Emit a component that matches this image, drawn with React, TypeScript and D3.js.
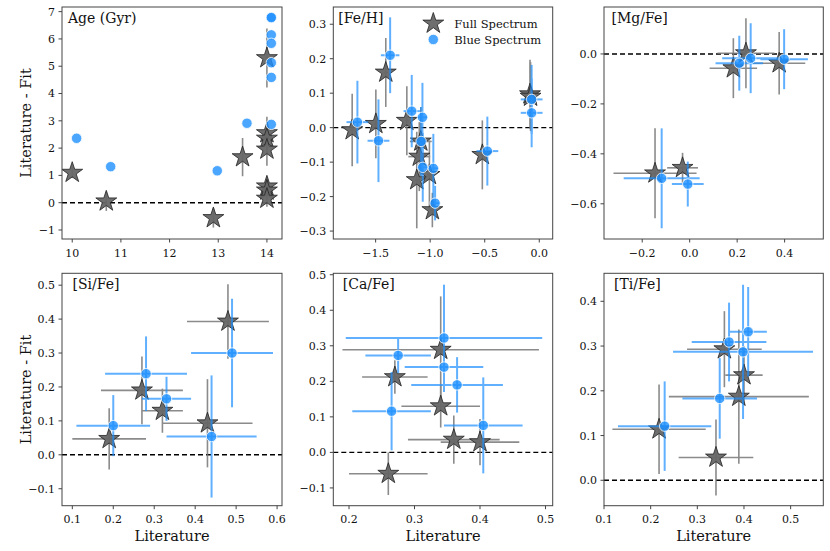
import React from 'react';
import * as d3 from 'd3';

// ---------------- DATA ----------------
// Age (Gyr)
const ageFullLit = [10.0, 10.7, 12.9, 13.5, 14.0, 14.0, 14.0, 14.0, 14.0, 14.0, 14.0];
const ageFullDiff = [1.1, 0.05, -0.56, 1.67, 5.3, 2.55, 2.35, 1.95, 0.6, 0.45, 0.15];
const ageFullYerr = [0.2, 0.35, 0.35, 0.7, 1.08, 0.6, 0.5, 0.6, 0.35, 0.3, 0.3];
const ageBlueLit = [10.09, 10.79, 12.98, 13.59, 14.09, 14.09, 14.09, 14.09, 14.09, 14.09, 14.09];
const ageBlueDiff = [2.36, 1.32, 1.17, 2.91, 6.8, 6.78, 6.15, 5.84, 5.13, 4.59, 2.87];

// [Fe/H]
const fehFullLit = [-1.715, -1.498, -1.407, -1.214, -1.086, -1.1, -1.123, -1.007, -0.98, -0.522, -0.085, -0.08];
const fehFullDiff = [-0.007, 0.011, 0.16, 0.02, -0.04, -0.084, -0.152, -0.137, -0.239, -0.079, 0.097, 0.09];
const fehFullYerr = [0.105, 0.1, 0.1, 0.1, 0.1, 0.1, 0.14, 0.1, 0.05, 0.1, 0.1, 0.1];
const fehFullXerr = [0.02, 0.02, 0.02, 0.02, 0.1, 0.1, 0.02, 0.02, 0.02, 0.02, 0.02, 0.02];
const fehBlueLit = [-1.667, -1.474, -1.367, -1.169, -1.071, -1.083, -1.068, -0.971, -0.955, -0.476, -0.07, -0.07];
const fehBlueDiff = [0.016, -0.038, 0.21, 0.048, 0.03, -0.04, -0.115, -0.118, -0.219, -0.068, 0.082, 0.043];
const fehBlueYerr = [0.12, 0.12, 0.11, 0.105, 0.1, 0.1, 0.1, 0.1, 0.05, 0.1, 0.1, 0.1];
const fehBlueXerr = [0.1, 0.1, 0.085, 0.075, 0.05, 0.05, 0.05, 0.05, 0.04, 0.1, 0.1, 0.1];

// [Mg/Fe]
const mgFullLit = [-0.146, -0.03, 0.184, 0.237, 0.377];
const mgFullDiff = [-0.478, -0.456, -0.057, 0.003, -0.037];
const mgFullYerr = [0.18, 0.06, 0.12, 0.14, 0.125];
const mgFullXerr = [0.175, 0.065, 0.1, 0.12, 0.11];
const mgBlueLit = [-0.118, -0.008, 0.209, 0.257, 0.398];
const mgBlueDiff = [-0.498, -0.521, -0.037, -0.017, -0.021];
const mgBlueYerr = [0.2, 0.09, 0.11, 0.14, 0.12];
const mgBlueXerr = [0.16, 0.067, 0.1, 0.12, 0.1];

// [Si/Fe]
const siFullLit = [0.19, 0.27, 0.32, 0.43, 0.48];
const siFullDiff = [0.047, 0.19, 0.13, 0.093, 0.393];
const siFullYerr = [0.09, 0.1, 0.065, 0.13, 0.11];
const siFullXerr = [0.09, 0.1, 0.05, 0.11, 0.1];
const siBlueLit = [0.2, 0.28, 0.33, 0.44, 0.49];
const siBlueDiff = [0.086, 0.239, 0.165, 0.054, 0.3];
const siBlueYerr = [0.09, 0.11, 0.065, 0.18, 0.16];
const siBlueXerr = [0.09, 0.1, 0.06, 0.11, 0.1];

// [Ca/Fe]
const caFullLit = [0.26, 0.27, 0.34, 0.34, 0.36, 0.4];
const caFullDiff = [-0.06, 0.212, 0.289, 0.13, 0.036, 0.029];
const caFullYerr = [0.06, 0.047, 0.15, 0.06, 0.068, 0.065];
const caFullXerr = [0.06, 0.05, 0.15, 0.06, 0.07, 0.06];
const caBlueLit = [0.265, 0.275, 0.345, 0.345, 0.365, 0.405];
const caBlueDiff = [0.116, 0.273, 0.322, 0.24, 0.19, 0.076];
const caBlueYerr = [0.11, 0.05, 0.15, 0.07, 0.078, 0.135];
const caBlueXerr = [0.06, 0.05, 0.15, 0.06, 0.07, 0.06];

// [Ti/Fe]
const tiFullLit = [0.218, 0.34, 0.358, 0.389, 0.4];
const tiFullDiff = [0.114, 0.051, 0.293, 0.187, 0.235];
const tiFullYerr = [0.1, 0.085, 0.085, 0.15, 0.065];
const tiFullXerr = [0.1, 0.08, 0.08, 0.15, 0.04];
const tiBlueLit = [0.23, 0.348, 0.368, 0.398, 0.409];
const tiBlueDiff = [0.121, 0.183, 0.309, 0.287, 0.332];
const tiBlueYerr = [0.1, 0.09, 0.088, 0.15, 0.1];
const tiBlueXerr = [0.1, 0.08, 0.08, 0.15, 0.04];

// tick values
const ageXTicks = [10, 11, 12, 13, 14];
const ageYTicks = [-1, 0, 1, 2, 3, 4, 5, 6, 7];
const fehXTicks = [-1.5, -1.0, -0.5, 0.0];
const fehYTicks = [-0.3, -0.2, -0.1, 0.0, 0.1, 0.2, 0.3];
const mgXTicks = [-0.2, 0.0, 0.2, 0.4];
const mgYTicks = [-0.6, -0.4, -0.2, 0.0];
const siXTicks = [0.1, 0.2, 0.3, 0.4, 0.5, 0.6];
const siYTicks = [-0.1, 0.0, 0.1, 0.2, 0.3, 0.4, 0.5];
const caXTicks = [0.2, 0.3, 0.4, 0.5];
const caYTicks = [-0.1, 0.0, 0.1, 0.2, 0.3, 0.4, 0.5];
const tiXTicks = [0.1, 0.2, 0.3, 0.4, 0.5];
const tiYTicks = [0.0, 0.1, 0.2, 0.3, 0.4];

const titles = ['Age (Gyr)', '[Fe/H]', '[Mg/Fe]', '[Si/Fe]', '[Ca/Fe]', '[Ti/Fe]'];
const legendLabels = ['Full Spectrum', 'Blue Spectrum'];
const yLabel = 'Literature - Fit';
const xLabel = 'Literature';

// ---------------- LAYOUT / STYLE ----------------
const FONT = 'DejaVu Serif';
const colX = [[62, 282], [333.3, 552.7], [604, 823.3]];
const rowY = [[7, 239], [273.3, 505.7]];
const STAR_R = 11;
const starPath = d3.symbol(d3.symbolStar, (STAR_R * STAR_R) / 0.8908130915292852)() as string;
const BLUE = '#1e90ff';

type Series = { x: number[]; y: number[]; xe?: number[]; ye?: number[] };
type Panel = {
  title: string; col: number; row: number; titleDx: number;
  xd: [number, number]; yd: [number, number];
  xt: number[]; yt: number[]; fmt: (v: number) => string;
  full: Series; blue: Series; legend?: boolean;
};

const f1 = (v: number) => d3.format('.1f')(v).replace('-', '\u2212');
const f0 = (v: number) => d3.format('d')(v).replace('-', '\u2212');

const panels: Panel[] = [
  { title: titles[0], col: 0, row: 0, titleDx: 6, xd: [9.79, 14.31], yd: [-1.33, 7.17], xt: ageXTicks, yt: ageYTicks, fmt: f0,
    full: { x: ageFullLit, y: ageFullDiff, ye: ageFullYerr }, blue: { x: ageBlueLit, y: ageBlueDiff } },
  { title: titles[1], col: 1, row: 0, titleDx: 5, xd: [-1.888, 0.123], yd: [-0.323, 0.35], xt: fehXTicks, yt: fehYTicks, fmt: f1,
    full: { x: fehFullLit, y: fehFullDiff, xe: fehFullXerr, ye: fehFullYerr }, blue: { x: fehBlueLit, y: fehBlueDiff, xe: fehBlueXerr, ye: fehBlueYerr }, legend: true },
  { title: titles[2], col: 2, row: 0, titleDx: 7.5, xd: [-0.361, 0.563], yd: [-0.741, 0.188], xt: mgXTicks, yt: mgYTicks, fmt: f1,
    full: { x: mgFullLit, y: mgFullDiff, xe: mgFullXerr, ye: mgFullYerr }, blue: { x: mgBlueLit, y: mgBlueDiff, xe: mgBlueXerr, ye: mgBlueYerr } },
  { title: titles[3], col: 0, row: 1, titleDx: 10.5, xd: [0.0748, 0.612], yd: [-0.15, 0.535], xt: siXTicks, yt: siYTicks, fmt: f1,
    full: { x: siFullLit, y: siFullDiff, xe: siFullXerr, ye: siFullYerr }, blue: { x: siBlueLit, y: siBlueDiff, xe: siBlueXerr, ye: siBlueYerr } },
  { title: titles[4], col: 1, row: 1, titleDx: 9.5, xd: [0.176, 0.511], yd: [-0.15, 0.504], xt: caXTicks, yt: caYTicks, fmt: f1,
    full: { x: caFullLit, y: caFullDiff, xe: caFullXerr, ye: caFullYerr }, blue: { x: caBlueLit, y: caBlueDiff, xe: caBlueXerr, ye: caBlueYerr } },
  { title: titles[5], col: 2, row: 1, titleDx: 10, xd: [0.1, 0.57], yd: [-0.0568, 0.4626], xt: tiXTicks, yt: tiYTicks, fmt: f1,
    full: { x: tiFullLit, y: tiFullDiff, xe: tiFullXerr, ye: tiFullYerr }, blue: { x: tiBlueLit, y: tiBlueDiff, xe: tiBlueXerr, ye: tiBlueYerr } },
];

function ErrBars({ s, sx, sy, color, width, opacity }: { s: Series; sx: any; sy: any; color: string; width: number; opacity: number }) {
  return (
    <g stroke={color} strokeWidth={width} opacity={opacity}>
      {s.x.map((xv, i) => (
        <g key={i}>
          {s.ye && <line x1={sx(xv)} x2={sx(xv)} y1={sy(s.y[i] - s.ye[i])} y2={sy(s.y[i] + s.ye[i])} />}
          {s.xe && <line x1={sx(xv - s.xe[i])} x2={sx(xv + s.xe[i])} y1={sy(s.y[i])} y2={sy(s.y[i])} />}
        </g>
      ))}
    </g>
  );
}

function PanelView({ p }: { p: Panel }) {
  const [x0, x1] = colX[p.col];
  const [y0, y1] = rowY[p.row];
  const sx = d3.scaleLinear().domain(p.xd).range([x0, x1]);
  const sy = d3.scaleLinear().domain(p.yd).range([y1, y0]);
  const clipId = `clip-${p.col}-${p.row}`;
  const axisColor = '#444';
  return (
    <g>
      <defs>
        <clipPath id={clipId}><rect x={x0} y={y0} width={x1 - x0} height={y1 - y0} /></clipPath>
      </defs>
      <g clipPath={`url(#${clipId})`}>
        <line x1={x0} x2={x1} y1={sy(0)} y2={sy(0)} stroke="#000" strokeWidth={1.4} strokeDasharray="5,3" />
        <ErrBars s={p.full} sx={sx} sy={sy} color="#777" width={1.6} opacity={0.85} />
        {p.full.x.map((xv, i) => (
          <path key={i} d={starPath} transform={`translate(${sx(xv)},${sy(p.full.y[i])})`} fill="#666" fillOpacity={0.95} stroke="#222" strokeWidth={0.8} />
        ))}
        <ErrBars s={p.blue} sx={sx} sy={sy} color={BLUE} width={2} opacity={0.7} />
        {p.blue.x.map((xv, i) => (
          <circle key={i} cx={sx(xv)} cy={sy(p.blue.y[i])} r={5.2} fill={BLUE} fillOpacity={0.8} stroke="#fff" strokeWidth={0.8} />
        ))}
      </g>
      <rect x={x0} y={y0} width={x1 - x0} height={y1 - y0} fill="none" stroke={axisColor} strokeWidth={1} />
      {p.xt.map((t) => (
        <g key={'x' + t}>
          <line x1={sx(t)} x2={sx(t)} y1={y1} y2={y1 + 3.5} stroke={axisColor} strokeWidth={1} />
          <text x={sx(t)} y={y1 + 17.5} textAnchor="middle" fontFamily={FONT} fontSize={11} fill="#111">{p.fmt(t)}</text>
        </g>
      ))}
      {p.yt.map((t) => (
        <g key={'y' + t}>
          <line x1={x0 - 3.5} x2={x0} y1={sy(t)} y2={sy(t)} stroke={axisColor} strokeWidth={1} />
          <text x={x0 - 7} y={sy(t)} dy="0.36em" textAnchor="end" fontFamily={FONT} fontSize={11} fill="#111">{p.fmt(t)}</text>
        </g>
      ))}
      <text x={x0 + p.titleDx} y={y0 + 16} fontFamily={FONT} fontSize={14} fill="#111">{p.title}</text>
      {p.col === 0 && (
        <text transform={`translate(31,${(y0 + y1) / 2}) rotate(-90)`} textAnchor="middle" fontFamily={FONT} fontSize={14.5} fill="#111">{yLabel}</text>
      )}
      {p.row === 1 && (
        <text x={(x0 + x1) / 2} y={541} textAnchor="middle" fontFamily={FONT} fontSize={14.5} fill="#111">{xLabel}</text>
      )}
      {p.legend && (
        <g>
          <path d={starPath} transform={`translate(${x0 + 100},${y0 + 16.5})`} fill="#666" fillOpacity={0.95} stroke="#222" strokeWidth={0.8} />
          <text x={x0 + 121} y={y0 + 20.5} fontFamily={FONT} fontSize={11.5} fill="#111">{legendLabels[0]}</text>
          <circle cx={x0 + 100} cy={y0 + 32.5} r={5.2} fill={BLUE} fillOpacity={0.8} stroke="#fff" strokeWidth={0.8} />
          <text x={x0 + 121} y={y0 + 36.5} fontFamily={FONT} fontSize={11.5} fill="#111">{legendLabels[1]}</text>
        </g>
      )}
    </g>
  );
}

export default function App() {
  return (
    <svg width={830} height={551} style={{ position: 'absolute', left: 0, top: 0, background: '#fff' }}>
      <rect x={0} y={0} width={830} height={551} fill="#fff" />
      {panels.map((p, i) => <PanelView key={i} p={p} />)}
    </svg>
  );
}
